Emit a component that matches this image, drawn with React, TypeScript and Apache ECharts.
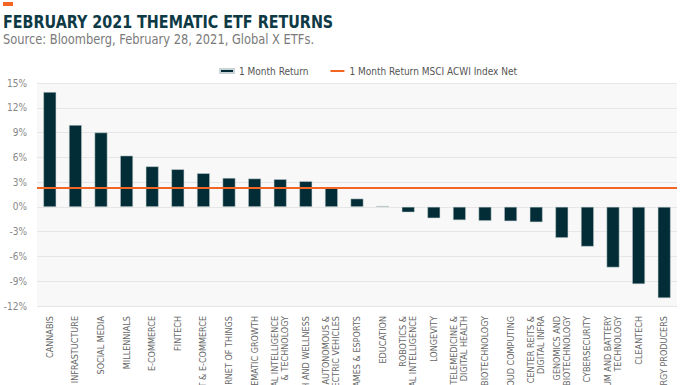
import React, { useEffect, useRef } from "react";
import * as echarts from "echarts";

const categories: string[] = [
  "CANNABIS",
  "INFRASTUCTURE",
  "SOCIAL MEDIA",
  "MILLENNIALS",
  "E-COMMERCE",
  "FINTECH",
  "EMERGING MARKETS INTERNET & E-COMMERCE",
  "INTERNET OF THINGS",
  "THEMATIC GROWTH",
  "ARTIFICIAL INTELLIGENCE\n& TECHNOLOGY",
  "HEALTH AND WELLNESS",
  "AUTONOMOUS &\nELECTRIC VEHICLES",
  "VIDEO GAMES & ESPORTS",
  "EDUCATION",
  "ROBOTICS &\nARTIFICIAL INTELLIGENCE",
  "LONGEVITY",
  "TELEMEDICINE &\nDIGITAL HEALTH",
  "BIOTECHNOLOGY",
  "CLOUD COMPUTING",
  "DATA CENTER REITS &\nDIGITAL INFRA",
  "GENOMICS AND\nBIOTECHNOLOGY",
  "CYBERSECURITY",
  "LITHIUM AND BATTERY\nTECHNOLOGY",
  "CLEANTECH",
  "RENEWABLE ENERGY PRODUCERS",
];

const oneMonthReturn: number[] = [
  13.9, 9.9, 9.0, 6.2, 4.9, 4.55, 4.07, 3.5, 3.43, 3.35, 3.1, 2.26, 1.0, 0.1,
  -0.65, -1.37, -1.6, -1.69, -1.73, -1.85, -3.75, -4.8, -7.33, -9.35, -11.04,
];

const msciAcwiReturn = 2.3;

const seriesNames = ["1 Month Return", "1 Month Return MSCI ACWI Index Net"];
const titleText = "FEBRUARY 2021 THEMATIC ETF RETURNS";
const subtitleText = "Source: Bloomberg, February 28, 2021, Global X ETFs.";

const NARROW = "'DejaVu Sans Condensed', 'DejaVu Sans', sans-serif";

export default function App() {
  const ref = useRef<HTMLDivElement>(null);
  useEffect(() => {
    if (!ref.current) return;
    const chart = echarts.init(ref.current, undefined, { renderer: "svg" });
    chart.setOption({
      animation: false,
      backgroundColor: "#ffffff",
      graphic: [
        {
          type: "rect",
          shape: { x: 3, y: 2, width: 10, height: 4 },
          style: { fill: "#f26522" },
        },
        {
          type: "text",
          x: 3,
          y: 22,
          scaleX: 0.885,
          style: {
            x: 0,
            y: 0,
            text: titleText,
            font: `bold 18px ${NARROW}`,
            fill: "#0d3a44",
            verticalAlign: "middle",
          },
        },
        {
          type: "text",
          x: 3,
          y: 39,
          scaleX: 0.91,
          style: {
            x: 0,
            y: 0,
            text: subtitleText,
            font: `14px ${NARROW}`,
            fill: "#7a7a7a",
            verticalAlign: "middle",
          },
        },
      ],
      legend: {
        left: 214,
        top: 61,
        itemGap: 22,
        itemWidth: 14,
        itemHeight: 4,
        textStyle: { fontFamily: NARROW, fontSize: 10, color: "#555" },
        data: [
          { name: seriesNames[0], icon: "rect" },
          { name: seriesNames[1], icon: "path://M0,0L14,0L14,2L0,2Z" },
        ],
      },
      grid: {
        left: 37,
        right: 19,
        top: 83,
        bottom: 79,
        show: true,
        backgroundColor: "#f8f8f8",
        borderWidth: 0,
        outerBoundsMode: "none",
        containLabel: false,
      },
      xAxis: {
        type: "category",
        data: categories,
        axisLine: { show: false },
        axisTick: { show: false },
        axisLabel: {
          interval: 0,
          rotate: 90,
          margin: 10,
          fontFamily: NARROW,
          fontSize: 9,
          lineHeight: 10,
          color: "#666",
        },
      },
      yAxis: {
        type: "value",
        min: -12,
        max: 15,
        interval: 3,
        axisLine: { show: false },
        axisTick: { show: false },
        axisLabel: {
          formatter: "{value}%",
          margin: 10,
          fontFamily: NARROW,
          fontSize: 10,
          color: "#888",
        },
        splitLine: { lineStyle: { color: "#e6e6e6", width: 1 } },
      },
      series: [
        {
          name: seriesNames[0],
          type: "bar",
          data: oneMonthReturn,
          barCategoryGap: "50%",
          itemStyle: { color: "#022d36", borderColor: "#c9d3d5", borderWidth: 0.5 },
        },
        {
          name: seriesNames[1],
          type: "line",
          data: [],
          itemStyle: { color: "#f26522" },
          lineStyle: { color: "#f26522" },
          markLine: {
            silent: true,
            symbol: "none",
            label: { show: false },
            lineStyle: { color: "#f26522", width: 2, type: "solid" },
            data: [{ yAxis: msciAcwiReturn }],
          },
        },
      ],
    });
    return () => chart.dispose();
  }, []);
  return (
    <div
      ref={ref}
      style={{ position: "fixed", left: 0, top: 0, width: 696, height: 385 }}
    />
  );
}
